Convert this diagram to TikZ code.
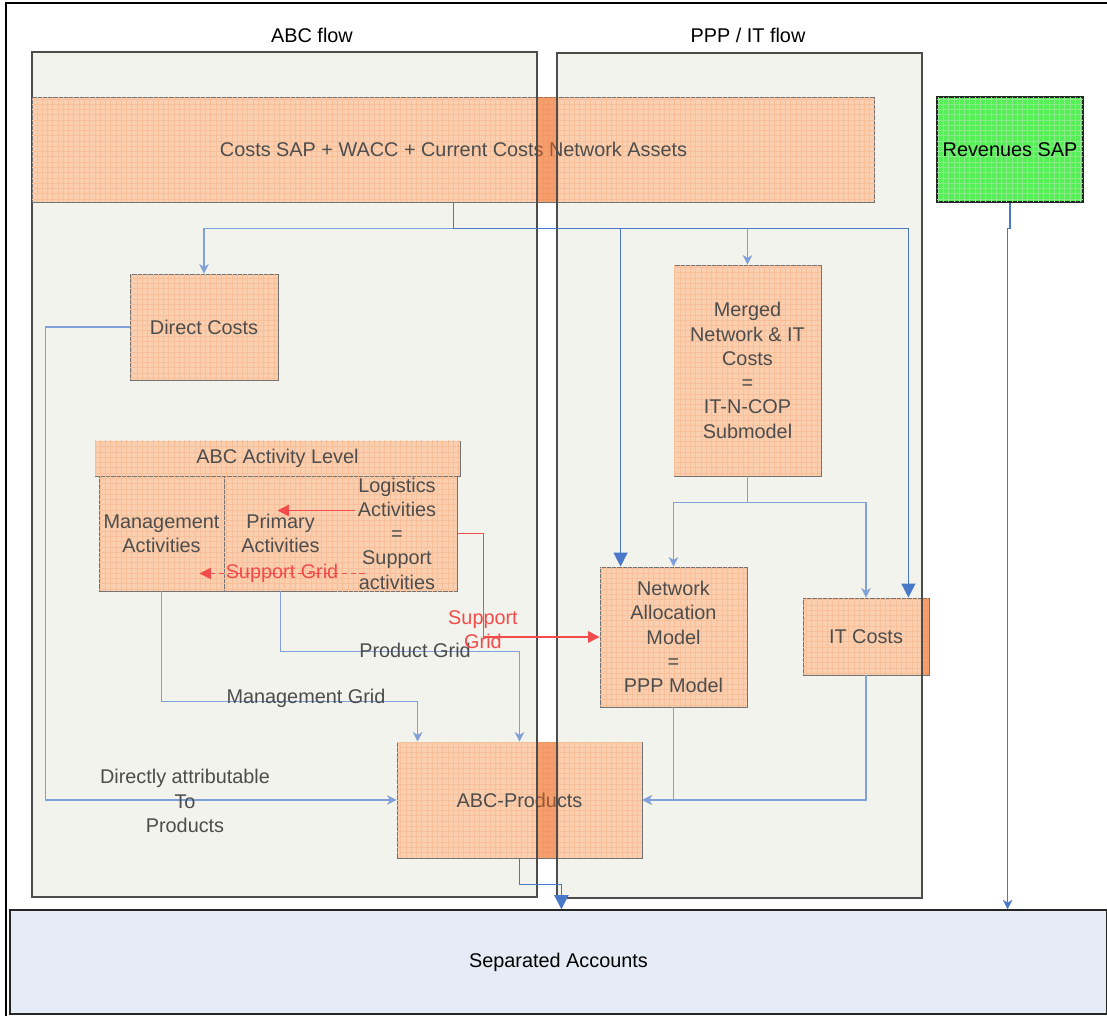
\documentclass[tikz,border=0pt]{standalone}
\usepackage{fontspec}
\setmainfont{Liberation Sans}
\usetikzlibrary{arrows.meta,calc,patterns}

\definecolor{orfill}{HTML}{F9CFAF}
\definecolor{orgrid}{HTML}{F5A46E}
\definecolor{ordark}{HTML}{F0661E}
\definecolor{bgfill}{HTML}{F2F3EC}
\definecolor{grfill}{HTML}{55F055}
\definecolor{grgrid}{HTML}{3CDC3C}
\definecolor{sepfill}{HTML}{E6ECF6}
\definecolor{linkblue}{HTML}{4A78C8}
\definecolor{liteblue}{HTML}{7FA0D8}
\definecolor{supred}{HTML}{F24B4B}
\definecolor{txtgray}{HTML}{4D4D4D}

\tikzset{
  every node/.style={font=\fontsize{11.3}{13.8}\selectfont, align=center},
  flowbox/.style={draw=black!70, line width=0.8pt, fill=bgfill},
  flowline/.style={draw=black!70, line width=0.8pt},
  costbox/.style={draw=black!55, line width=0.5pt, fill=orfill,
    postaction={pattern=grid, pattern color=orgrid!70},
    text=txtgray, inner sep=1pt},
  band/.style={fill=ordark, opacity=0.45},
  revbox/.style={draw=black!85, line width=0.8pt, fill=grfill,
    postaction={pattern=grid, pattern color=grgrid!60}, inner sep=1pt},
  sepbox/.style={draw=black!85, line width=0.8pt, fill=sepfill},
  lbl/.style={text=txtgray, inner sep=1pt},
  redlbl/.style={text=supred, inner sep=1pt},
  lite/.style={liteblue, line width=0.6pt, -{Stealth[width=5.5pt,length=5.5pt]}},
  strong/.style={linkblue, line width=0.8pt, -{Triangle[width=8pt,length=8pt]}},
  thin/.style={linkblue, line width=0.6pt, -{Stealth[width=5.5pt,length=5.5pt]}},
  supline/.style={supred, line width=0.6pt, -{Triangle[width=6.5pt,length=6.5pt]}}
}

\begin{document}
\begin{tikzpicture}[x=0.02cm, y=-0.02cm]
  \useasboundingbox (0,0) rectangle (1107,1016);
  \draw[line width=1.2pt] (6,1016) -- (6,3) -- (1107,3);

  % flow containers
  \draw[flowbox] (32,52) rectangle (537,897);
  \draw[flowbox] (557,53) rectangle (922,898);
  \node (abct) at (312,35) {ABC flow};
  \node (pppt) at (748,35) {PPP / IT flow};

  % cost blocks
  \node[costbox, minimum width=16.86cm, minimum height=2.1cm] (costs) at (453.5,149.5)
    {Costs SAP + WACC + Current Costs Network Assets};
  \node[revbox, minimum width=2.92cm, minimum height=2.1cm] (rev) at (1010,149.5) {Revenues SAP};
  \node[costbox, minimum width=2.96cm, minimum height=2.12cm] (direct) at (204,327) {Direct Costs};
  \node[costbox, minimum width=2.94cm, minimum height=4.22cm] (merged) at (747.5,370.5)
    {Merged\\Network \& IT\\Costs\\=\\IT-N-COP\\Submodel};
  \node[costbox, minimum width=7.3cm, minimum height=0.7cm] (actlevel) at (277.5,458.5) {ABC Activity Level};
  \node[costbox, minimum width=2.5cm, minimum height=2.3cm] (mgmt) at (161.5,533.5) {Management\\Activities};
  \node[costbox, minimum width=2.26cm, minimum height=2.3cm] (prim) at (280.5,533.5) {Primary\\Activities};
  \node[costbox, minimum width=2.4cm, minimum height=2.3cm] (logi) at (397,533.5)
    {Logistics\\Activities\\=\\Support\\activities};
  \node[costbox, minimum width=2.94cm, minimum height=2.8cm] (nam) at (673.5,637)
    {Network\\Allocation\\Model\\=\\PPP Model};
  \node[costbox, minimum width=2.52cm, minimum height=1.54cm] (itc) at (866,636.5) {IT Costs};
  \node[costbox, minimum width=4.9cm, minimum height=2.32cm] (prod) at (519.5,800) {ABC-Products};
  \node[sepbox, minimum width=21.94cm, minimum height=2.08cm] (sep) at (558.5,962) {Separated Accounts};

  % where the blocks leave the containers
  \fill[band] (537,97) rectangle (557,202);
  \fill[band] (537,742) rectangle (557,858);
  \fill[band] (922,598) rectangle (929,675);
  \draw[flowline] (537,52) -- (537,897);
  \draw[flowline] (557,53) -- (557,898);
  \draw[flowline] (922,53) -- (922,898);

  % cost flows
  \draw[lite] (costs.south) -- ++(0,26) -| (direct.north);
  \draw[lite] (costs.south) -- ++(0,26) -| (merged.north);
  \draw[strong] (costs.south) -- ++(0,26) -| ($(nam.north west)+(21,0)$);
  \draw[strong] (costs.south) -- ++(0,26) -| ($(itc.north east)+(-21,0)$);
  \draw[lite] (merged.south) -- ++(0,26) -| (nam.north);
  \draw[lite] (merged.south) -- ++(0,26) -| (itc.north);

  % ABC grids
  \draw[lite] (direct.west) -- ++(-84,0) |- (prod.west);
  \node[lbl] (dlbl) at (185,801) {Directly attributable\\To\\Products};
  \draw[lite] (mgmt.south) -- ++(0,110) -| ($(prod.north west)+(21,0)$);
  \node[lbl] (mlbl) at (306,698) {Management Grid};
  \draw[lite] (prim.south) -- ++(0,60) -| (prod.north);
  \node[lbl] (plbl) at (415,650) {Product Grid};

  % support grid
  \draw[supline] ($(logi.west)+(18,-23)$) -- ($(prim.center)+(-3,-23)$);
  \draw[supline, densely dashed] ($(logi.west)+(28,40)$) -- ($(mgmt.center)+(38,40)$)
    node[redlbl, midway] (slbl) {Support Grid};
  \draw[supline] (logi.east) -- ++(26,0) |- (nam.west);
  \node[redlbl] (gridlbl) at (483,630) {Support\\Grid};

  % to products and accounts
  \draw[lite] (nam.south) |- (prod.east);
  \draw[lite] (itc.south) |- (prod.east);
  \draw[strong] (prod.south) -- ++(0,26) -| ($(sep.north west)+(552,0)$);
  \draw[thin] (rev.south) -- ++(0,26) -| ($(sep.north east)+(-100,0)$);
\end{tikzpicture}
\end{document}
